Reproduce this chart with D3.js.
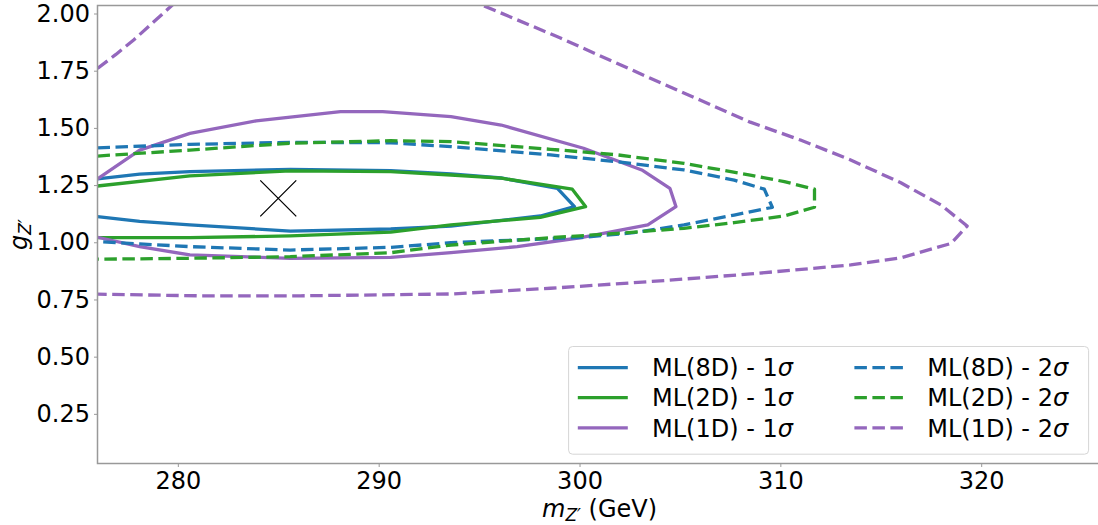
<!DOCTYPE html>
<html>
<head>
<meta charset="utf-8">
<script src="https://cdn.jsdelivr.net/npm/d3@7"></script>
<style>
  body { margin: 0; background: #fff; }
  text { font-family: "DejaVu Sans", sans-serif; }
</style>
</head>
<body>
<div id="chart"></div>
<script>
// contour points, [m_Z' (GeV), g_Z']
const ml8d1s = [[276.0,1.277],[278.1,1.298],[280.6,1.309],[285.6,1.319],[290.6,1.313],[293.6,1.299],[296.1,1.281],[298.9,1.236],[299.75,1.156],
  [298.05,1.115],[293.6,1.071],[290.6,1.058],[285.6,1.049],[280.6,1.076],[278.1,1.091],[276.0,1.112]];
const ml2d1s = [[276.0,1.246],[280.6,1.290],[285.6,1.312],[290.6,1.309],[293.6,1.294],[296.1,1.280],[299.64,1.232],[300.3,1.156],
  [298.05,1.109],[293.6,1.076],[290.6,1.044],[285.6,1.028],[280.6,1.020],[276.0,1.020]];
const ml1d1s = [[276.0,1.277],[278.1,1.403],[280.6,1.476],[283.9,1.531],[288.1,1.571],[290.2,1.571],[293.6,1.549],[296.1,1.5125],[300.2,1.411],
  [303.1,1.316],[304.5,1.236],[304.8,1.156],[303.4,1.076],[300.2,1.022],[296.9,0.981],[293.6,0.9545],[290.6,0.934],[285.6,0.930],
  [280.6,0.9445],[278.1,0.981],[276.0,1.022]];
const ml8d2s = [[276.0,1.413],[280.6,1.428],[285.6,1.437],[290.6,1.435],[293.6,1.418],[298.55,1.382],[301.9,1.352],[305.2,1.316],[307.7,1.272],
  [309.2,1.232],[309.6,1.153],[307.7,1.119],[305.2,1.076],[302.7,1.042],[300.2,1.022],[296.9,1.010],[293.6,0.998],[290.6,0.978],
  [285.6,0.966],[280.6,0.981],[278.1,0.993],[276.0,1.003]];
const ml2d2s = [[276.0,1.377],[280.6,1.403],[285.6,1.433],[290.6,1.444],[293.6,1.440],[298.55,1.4065],[301.9,1.382],[305.2,1.345],[308.5,1.294],
  [310.2,1.265],[311.7,1.232],[311.7,1.153],[310.2,1.115],[307.7,1.086],[305.2,1.061],[301.9,1.039],[298.55,1.020],[293.6,0.988],
  [290.6,0.9545],[285.6,0.937],[280.6,0.930],[276.0,0.926]];
const ml1d2s = [[276.0,1.760],[276.9,1.820],[277.8,1.884],[279.7,2.035],[281.5,2.200],[287.0,2.400],[293.0,2.300],[295.2,2.035],
  [299.05,1.893],[303.5,1.718],[306.0,1.622],[308.5,1.525],[311.0,1.447],[313.5,1.360],[316.0,1.260],[318.0,1.163],[319.3,1.071],
  [318.5,0.995],[316.0,0.932],[313.5,0.901],[308.5,0.8615],[303.5,0.828],[298.55,0.799],[293.6,0.774],[286.1,0.766],[281.1,0.766],[276.0,0.773]];

const bestFit = [285.0, 1.192];

const xTicks = [280, 290, 300, 310, 320];
const yTicks = [0.25, 0.50, 0.75, 1.00, 1.25, 1.50, 1.75, 2.00];

const seriesNames = ["ML(8D) - 1", "ML(2D) - 1", "ML(1D) - 1", "ML(8D) - 2", "ML(2D) - 2", "ML(1D) - 2"];
const seriesData = [ml8d1s, ml2d1s, ml1d1s, ml8d2s, ml2d2s, ml1d2s];
const seriesColors = ["#1f77b4", "#2ca02c", "#9467bd", "#1f77b4", "#2ca02c", "#9467bd"];
const seriesDashed = [false, false, false, true, true, true];

const W = 1098, H = 525;
const pLeft = 97.5, pTop = 5.5, pRight = 1101.7, pBottom = 463.5;
const fs = 24;

const svg = d3.select("#chart").append("svg")
  .attr("width", W).attr("height", H);

const x = d3.scaleLinear().domain([276, 326]).range([pLeft, pRight]);
const y = d3.scaleLinear().domain([0.033, 2.035]).range([pBottom, pTop]);

svg.append("clipPath").attr("id", "plotclip")
  .append("rect").attr("x", pLeft).attr("y", pTop)
  .attr("width", pRight - pLeft).attr("height", pBottom - pTop);

const line = d3.line().x(d => x(d[0])).y(d => y(d[1]));

const plot = svg.append("g").attr("clip-path", "url(#plotclip)");
seriesData.forEach((data, i) => {
  plot.append("path")
    .attr("d", line(data))
    .attr("fill", "none")
    .attr("stroke", seriesColors[i])
    .attr("stroke-width", 3.3)
    .attr("stroke-linejoin", "round")
    .attr("stroke-dasharray", seriesDashed[i] ? "12.5,5.5" : null);
});

// best fit marker
const mx = x(bestFit[0]), my = y(bestFit[1]), ms = 18;
plot.append("path")
  .attr("d", `M${mx - ms},${my - ms}L${mx + ms},${my + ms}M${mx - ms},${my + ms}L${mx + ms},${my - ms}`)
  .attr("stroke", "#000").attr("stroke-width", 1.3).attr("fill", "none");

// axes
const xAxis = svg.append("g")
  .attr("transform", "translate(0," + pBottom + ")")
  .call(d3.axisBottom(x).tickValues(xTicks).tickSize(3.5).tickPadding(5).tickFormat(d3.format("d")));
const yAxis = svg.append("g")
  .attr("transform", "translate(" + pLeft + ",0)")
  .call(d3.axisLeft(y).tickValues(yTicks).tickSize(3.5).tickPadding(4).tickFormat(d3.format(".2f")));
[xAxis, yAxis].forEach(a => {
  a.select(".domain").remove();
  a.selectAll(".tick line").attr("stroke", "#999").attr("stroke-width", 1);
  a.selectAll(".tick text").attr("font-size", fs).attr("fill", "#000")
    .attr("font-family", "DejaVu Sans, sans-serif");
});

// frame
svg.append("rect")
  .attr("x", pLeft).attr("y", pTop)
  .attr("width", pRight - pLeft).attr("height", pBottom - pTop)
  .attr("fill", "none").attr("stroke", "#999").attr("stroke-width", 1.5);

// axis labels
const xl = svg.append("text")
  .attr("x", (pLeft + pRight) / 2).attr("y", 517)
  .attr("text-anchor", "middle").attr("font-size", fs);
xl.append("tspan").attr("font-style", "italic").text("m");
xl.append("tspan").attr("font-style", "italic").attr("font-size", 17).attr("dy", 4).text("Z′");
xl.append("tspan").attr("dy", -4).text(" (GeV)");

const yl = svg.append("text")
  .attr("transform", `translate(27,${(pTop + pBottom) / 2}) rotate(-90)`)
  .attr("text-anchor", "middle").attr("font-size", fs);
yl.append("tspan").attr("font-style", "italic").text("g");
yl.append("tspan").attr("font-style", "italic").attr("font-size", 17).attr("dy", 4).text("Z′");

// legend
const lg = svg.append("g");
lg.append("rect")
  .attr("x", 568.6).attr("y", 346.5).attr("width", 520).attr("height", 107.7)
  .attr("rx", 4).attr("fill", "#fff").attr("fill-opacity", 0.8)
  .attr("stroke", "#d6d6d6").attr("stroke-width", 1);
const rowY = [367.7, 397.6, 427.8];
const colX = [577.8, 854.4];
const colT = [652, 927.2];
seriesNames.forEach((name, i) => {
  const c = Math.floor(i / 3), r = i % 3;
  lg.append("line")
    .attr("x1", colX[c]).attr("x2", colX[c] + 50)
    .attr("y1", rowY[r]).attr("y2", rowY[r])
    .attr("stroke", seriesColors[i]).attr("stroke-width", 3.3)
    .attr("stroke-dasharray", seriesDashed[i] ? "12.5,5.5" : null);
  const t = lg.append("text")
    .attr("x", colT[c]).attr("y", rowY[r] + 8.7)
    .attr("font-size", fs);
  t.append("tspan").text(name);
  t.append("tspan").attr("font-style", "italic").text("σ");
});
</script>
</body>
</html>
